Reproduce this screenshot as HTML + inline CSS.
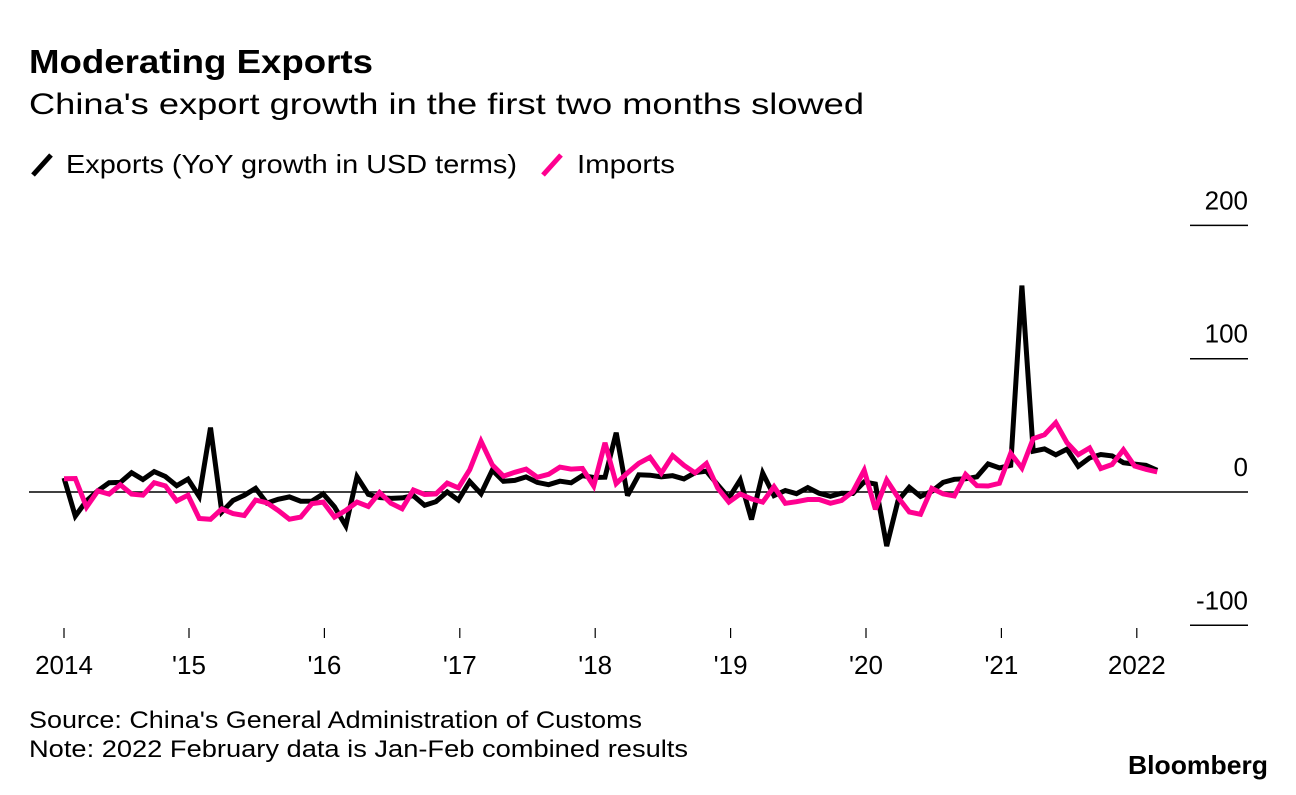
<!DOCTYPE html>
<html><head><meta charset="utf-8"><style>
body{margin:0;background:#fff;font-family:"Liberation Sans",Arial,sans-serif;}
svg text{font-family:"Liberation Sans",Arial,sans-serif;}
</style></head><body>
<svg id="chart" width="1296" height="790">
<text x="29" y="73" font-size="33" font-weight="bold" textLength="344" lengthAdjust="spacingAndGlyphs">Moderating Exports</text>
<text x="29" y="114" font-size="30" textLength="835" lengthAdjust="spacingAndGlyphs">China's export growth in the first two months slowed</text>
<g>
<line x1="33" y1="175" x2="51" y2="155" stroke="#000" stroke-width="5"/>
<text x="66" y="173" font-size="26" textLength="451" lengthAdjust="spacingAndGlyphs">Exports (YoY growth in USD terms)</text>
<line x1="543" y1="175" x2="561" y2="155" stroke="#ff0090" stroke-width="5"/>
<text x="577" y="173" font-size="26" textLength="98" lengthAdjust="spacingAndGlyphs">Imports</text>
</g>
<g id="axes"></g>
<g id="series"></g>
<text x="29" y="728" font-size="24" textLength="613" lengthAdjust="spacingAndGlyphs">Source: China's General Administration of Customs</text>
<text x="29" y="757" font-size="24" textLength="659" lengthAdjust="spacingAndGlyphs">Note: 2022 February data is Jan-Feb combined results</text>
<text x="1128" y="774" font-size="26" font-weight="bold" textLength="140" lengthAdjust="spacingAndGlyphs">Bloomberg</text>
</svg>
<script>
const exportsVals=[10.6,-18.1,-6.6,0.9,7.0,7.2,14.5,9.4,15.3,11.6,4.7,9.7,
-3.3,48.3,-15,-6.4,-2.5,2.8,-8.3,-5.5,-3.7,-6.9,-6.8,-1.4,
-11.2,-25.4,11.5,-1.8,-4.1,-4.8,-4.4,-2.8,-10,-7.3,0.1,-6.1,
7.9,-1.3,16.4,8,8.7,11.3,7.2,5.5,8.1,6.9,12.3,10.9,
11.1,44.5,-2.7,12.9,12.6,11.3,12.2,9.8,14.5,15.6,5.4,-4.4,
9.1,-20.7,14.2,-2.7,1.1,-1.3,3.3,-1,-3.2,-0.9,-1.1,7.6,
6,-40.6,-6.6,3.5,-3.3,0.5,7.2,9.5,9.9,11.4,21.1,18.1,
20,154.9,30.6,32.3,27.9,32.2,19.3,25.6,28.1,27.1,22,20.9,
20,16.3];
const importsVals=[10,10.1,-11.3,0.8,-1.6,5.5,-1.6,-2.4,7,4.6,-6.7,-2.4,
-19.9,-20.5,-12.7,-16.2,-17.6,-6.1,-8.1,-13.8,-20.4,-18.8,-8.7,-7.6,
-18.8,-13.8,-7.6,-10.9,-0.4,-8.4,-12.5,1.5,-1.9,-1.4,6.7,3.1,
16.7,38.1,20.3,11.9,14.8,17.2,11,13.3,18.7,17.2,17.7,4.5,
36.9,6.3,14.4,21.5,26,14.1,27.3,20,14.3,21.4,3,-7.6,
-1.5,-5.2,-7.6,4,-8.5,-7.3,-5.6,-5.6,-8.5,-6.4,0.3,16.3,
-13,9,-4,-15,-16.7,2.7,-1.4,-3,13.2,4.7,4.5,6.5,
29,18,40,43,52,37,28,33,17.6,20.6,31.7,19.5,
17,15];
const yTicks=[200,100,0,-100];
const xTickLabels=["2014","'15","'16","'17","'18","'19","'20","'21","2022"];
const NS='http://www.w3.org/2000/svg';
const x=i=>64+i*11.27;
const y=v=>492-v*1.333;
const tickX=k=>k===0?64:189+(k-1)*135.4;
const axes=document.getElementById('axes');
const series=document.getElementById('series');
function mk(tag,attrs,parent){const e=document.createElementNS(NS,tag);for(const k in attrs)e.setAttribute(k,attrs[k]);parent.appendChild(e);return e;}
yTicks.forEach(v=>{
  const l=mk('line',{x1:v===0?29:1190,x2:1248,y1:y(v),y2:y(v),stroke:'#000','stroke-width':1.5},axes);
  
  
  const t=mk('text',{x:1248,y:y(v)-16,'font-size':26,'text-anchor':'end'},axes);
  t.textContent=String(v);
  
  
});
xTickLabels.forEach((lab,k)=>{
  const tx=tickX(k);
  const l=mk('line',{x1:tx,x2:tx,y1:628,y2:638,stroke:'#000','stroke-width':1.2},axes);
  
  
  const t=mk('text',{x:tx,y:674,'font-size':26,'text-anchor':'middle'},axes);
  t.textContent=lab;
  
  
});
function line(vals,color,name){
  const d=vals.map((v,i)=>(i?'L':'M')+x(i).toFixed(1)+' '+y(v).toFixed(1)).join(' ');
  const p=mk('path',{d:d,fill:'none',stroke:color,'stroke-width':5,'stroke-linejoin':'miter','stroke-miterlimit':3},series);
  
  
}
line(exportsVals,'#000','exports-line');
line(importsVals,'#ff0090','imports-line');
</script>
</body></html>
